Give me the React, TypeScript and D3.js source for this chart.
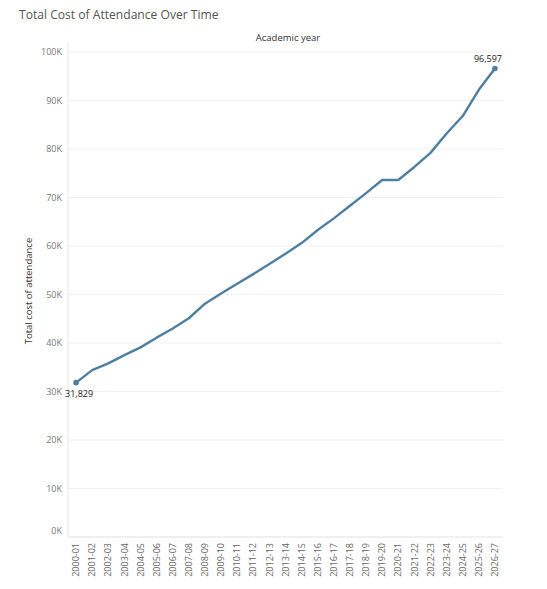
import * as d3 from 'd3';

const YEARS = [
  '2000-01', '2001-02', '2002-03', '2003-04', '2004-05', '2005-06', '2006-07',
  '2007-08', '2008-09', '2009-10', '2010-11', '2011-12', '2012-13', '2013-14',
  '2014-15', '2015-16', '2016-17', '2017-18', '2018-19', '2019-20', '2020-21',
  '2021-22', '2022-23', '2023-24', '2024-25', '2025-26', '2026-27',
];

const COST = [
  31829, 34400, 35800, 37500, 39100, 41100, 43000,
  45100, 48100, 50200, 52200, 54200, 56300, 58400,
  60600, 63300, 65700, 68300, 70900, 73600, 73600,
  76300, 79200, 83200, 86800, 92200, 96597,
];

const Y_TICKS = [0, 10000, 20000, 30000, 40000, 50000, 60000, 70000, 80000, 90000, 100000];

const WIDTH = 547;
const HEIGHT = 589;
const margin = { top: 52, right: 44, bottom: 52, left: 68 };
const FONT = '"Open Sans", "Noto Sans", sans-serif';

export default function App() {
  const innerW = WIDTH - margin.left - margin.right;
  const innerH = HEIGHT - margin.top - margin.bottom;

  const x = d3.scalePoint<string>().domain(YEARS).range([0, innerW]).padding(0.5);
  const y = d3.scaleLinear().domain([0, 100000]).range([innerH, 0]);

  const data = YEARS.map((yr, i) => ({ yr, v: COST[i] }));
  const line = d3.line<{ yr: string; v: number }>()
    .x(d => x(d.yr) as number)
    .y(d => y(d.v));

  const first = data[0];
  const last = data[data.length - 1];
  const fmt = d3.format(',');

  return (
    <svg
      width={WIDTH}
      height={HEIGHT}
      style={{ position: 'absolute', left: 0, top: 0, background: '#fff' }}
      fontFamily={FONT}
    >
      <text x={19} y={18.5} fontSize={12.1} fill="#555">Total Cost of Attendance Over Time</text>
      <text x={288} y={41} fontSize={9.5} fill="#333" textAnchor="middle">
        Academic year
      </text>
      <text
        transform="translate(32,291) rotate(-90)"
        fontSize={9.5}
        fill="#333"
        textAnchor="middle"
      >
        Total cost of attendance
      </text>

      <g transform={`translate(${margin.left},${margin.top})`}>
        {/* gridlines */}
        {Y_TICKS.map(t => (
          <line key={t} x1={0} x2={innerW} y1={y(t)} y2={y(t)} stroke="#f0f0f0" />
        ))}
        <line x1={0} x2={0} y1={-9} y2={innerH} stroke="#e8e8e8" />
        <line x1={0} x2={innerW} y1={innerH} y2={innerH} stroke="#e8e8e8" />

        {/* y tick labels; the bottom one sits inside the pane */}
        {Y_TICKS.map(t => (
          <text
            key={t}
            x={-6}
            y={t === 0 ? y(t) - 6 : y(t)}
            dy="0.35em"
            fontSize={9}
            fill="#777"
            textAnchor="end"
          >
            {t / 1000}K
          </text>
        ))}

        {/* x tick labels */}
        {YEARS.map(yr => (
          <text
            key={yr}
            transform={`translate(${x(yr)},${innerH + 6}) rotate(-90)`}
            dy="0.35em"
            fontSize={9}
            fill="#666"
            textAnchor="end"
          >
            {yr}
          </text>
        ))}

        <path d={line(data) ?? ''} fill="none" stroke="#4e7fa1" strokeWidth={2.4} strokeLinejoin="round" />

        <circle cx={x(first.yr)} cy={y(first.v)} r={2.8} fill="#4e7fa1" />
        <circle cx={x(last.yr)} cy={y(last.v)} r={2.8} fill="#4e7fa1" />

        <text x={(x(first.yr) as number) - 11} y={y(first.v) + 14} fontSize={9} fill="#222">
          {fmt(first.v)}
        </text>
        <text x={(x(last.yr) as number) + 7} y={y(last.v) - 7} fontSize={9} fill="#222" textAnchor="end">
          {fmt(last.v)}
        </text>
      </g>
    </svg>
  );
}
